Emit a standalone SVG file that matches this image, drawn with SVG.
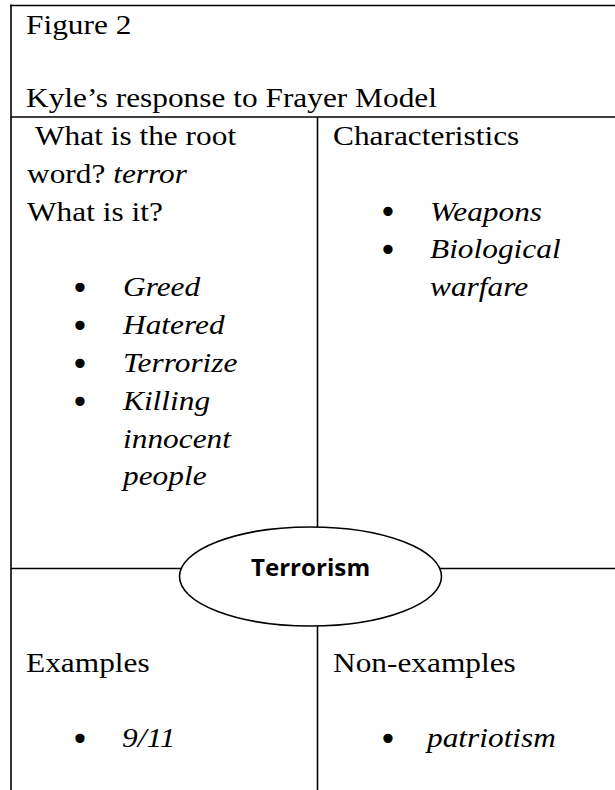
<svg xmlns="http://www.w3.org/2000/svg" width="615" height="790" viewBox="0 0 615 790">
  <style>
    .t { font-family: "Liberation Serif", "Times New Roman", serif; font-size: 28px; fill: #000; }
    .i { font-style: italic; }
    .b { font-family: "DejaVu Sans", sans-serif; font-size: 32px; fill: #000; text-anchor: middle; }
    .c { font-family: "Open Sans", "Liberation Sans", sans-serif; font-weight: bold; font-size: 23px; fill: #000; text-anchor: middle; }
    .ln { stroke: #000; stroke-width: 1.6; fill: none; }
  </style>
  <rect x="0" y="0" width="615" height="790" fill="#fff"/>

  <g id="connectors">
    <line class="ln" x1="10" y1="5.5" x2="615" y2="5.5" stroke-width="2"/>
    <line class="ln" x1="11" y1="4.5" x2="11" y2="790" stroke-width="2"/>
    <line class="ln" x1="11" y1="117" x2="615" y2="117"/>
    <line class="ln" x1="317.5" y1="117" x2="317.5" y2="790"/>
    <line class="ln" x1="11" y1="568.5" x2="615" y2="568.5"/>
  </g>

  <g id="title">
    <text class="t" transform="translate(26,34) scale(1.12,1)">Figure 2</text>
    <text class="t" transform="translate(26,107) scale(1.12,1)">Kyle’s response to Frayer Model</text>
  </g>

  <g id="definition">
    <text class="t" transform="translate(35,145) scale(1.12,1)">What is the root</text>
    <text class="t" transform="translate(27,183) scale(1.12,1)">word? <tspan class="i">terror</tspan></text>
    <text class="t" transform="translate(27,220.5) scale(1.12,1)">What is it?</text>
    <text class="b" x="80" y="299">•</text>
    <text class="t i" transform="translate(123,296) scale(1.12,1)">Greed</text>
    <text class="b" x="80" y="337">•</text>
    <text class="t i" transform="translate(123,334) scale(1.12,1)">Hatered</text>
    <text class="b" x="80" y="375">•</text>
    <text class="t i" transform="translate(123,372) scale(1.12,1)">Terrorize</text>
    <text class="b" x="80" y="413">•</text>
    <text class="t i" transform="translate(123,410) scale(1.12,1)">Killing</text>
    <text class="t i" transform="translate(123,447.5) scale(1.12,1)">innocent</text>
    <text class="t i" transform="translate(123,485) scale(1.12,1)">people</text>
  </g>

  <g id="characteristics">
    <text class="t" transform="translate(333,145) scale(1.12,1)">Characteristics</text>
    <text class="b" x="388" y="223">•</text>
    <text class="t i" transform="translate(430,220.5) scale(1.12,1)">Weapons</text>
    <text class="b" x="388" y="261">•</text>
    <text class="t i" transform="translate(430,258) scale(1.12,1)">Biological</text>
    <text class="t i" transform="translate(430,296) scale(1.12,1)">warfare</text>
  </g>

  <g id="examples">
    <text class="t" transform="translate(26,672) scale(1.12,1)">Examples</text>
    <text class="b" x="80" y="750">•</text>
    <text class="t i" transform="translate(122,747) scale(1.12,1)">9/11</text>
  </g>

  <g id="non-examples">
    <text class="t" transform="translate(333,672) scale(1.12,1)">Non-examples</text>
    <text class="b" x="388" y="750">•</text>
    <text class="t i" transform="translate(427,747) scale(1.12,1)">patriotism</text>
  </g>

  <g id="center">
    <ellipse class="ln" cx="310.5" cy="576.5" rx="131" ry="49.5" style="fill:#fff"/>
    <text class="c" transform="translate(310.5,576) scale(1.05,1)">Terrorism</text>
  </g>
</svg>
